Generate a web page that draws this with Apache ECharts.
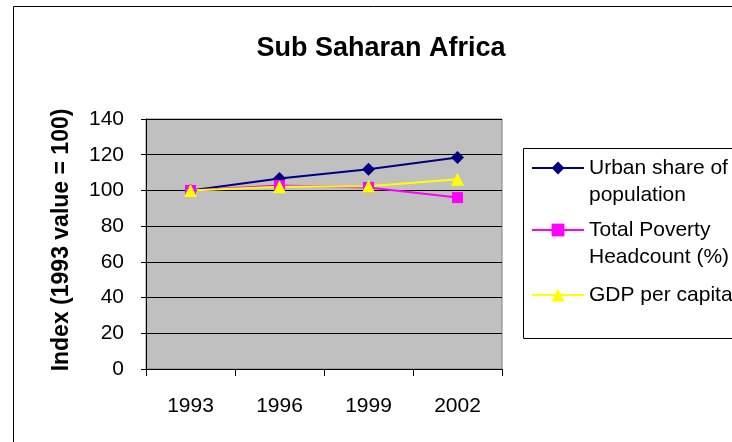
<!DOCTYPE html>
<html>
<head>
<meta charset="utf-8">
<script src="https://cdn.jsdelivr.net/npm/echarts@6/dist/echarts.min.js"></script>
<style>
  html, body { margin: 0; padding: 0; background: #fff; }
  #chart { width: 732px; height: 442px; }
</style>
</head>
<body>
<div id="chart"></div>
<script>
// 数据
const years = ['1993', '1996', '1999', '2002'];
const urbanShare = [100, 106.7, 111.8, 118.5];
const povertyHeadcount = [100, 102.8, 101.7, 96];
const gdpPerCapita = [100, 102, 102.4, 106.2];

const FONT = 'Liberation Sans, Arial, sans-serif';

const chart = echarts.init(document.getElementById('chart'));

// 单项图例：多行文字前加一空行，让首行与图标对齐
const legendItem = (name, top, multiLine) => ({
    orient: 'vertical',
    left: 531,
    top: top,
    padding: 0,
    itemWidth: 52,
    itemHeight: 16,
    itemGap: 0,
    itemTextGap: 7,
    data: [name],
    formatter: (n) => (multiLine ? ' \n' + n : n),
    textStyle: {
        fontFamily: FONT,
        fontSize: 21,
        color: '#000',
        lineHeight: 27
    }
});

const option = {
    animation: false,
    backgroundColor: '#fff',
    title: {
        text: 'Sub Saharan Africa',
        left: 376,
        top: 30,
        textAlign: 'center',
        textStyle: { fontFamily: FONT, fontSize: 27, fontWeight: 'bold', color: '#000' }
    },
    graphic: [
        {
            type: 'rect',
            shape: { x: 13.5, y: 6.5, width: 800, height: 500 },
            style: { fill: 'none', stroke: '#000', lineWidth: 1 },
            silent: true
        },
        {
            type: 'rect',
            shape: { x: 523.5, y: 148.5, width: 300, height: 190 },
            style: { fill: 'none', stroke: '#000', lineWidth: 1 },
            silent: true
        }
    ],
    legend: [
        legendItem('Urban share of\npopulation', 127.5, true),
        legendItem('Total Poverty\nHeadcount (%)', 189.5, true),
        legendItem('GDP per capita', 281.5, false)
    ],
    grid: {
        left: 146,
        top: 119,
        right: 230,
        bottom: 73,
        show: true,
        backgroundColor: '#C0C0C0',
        borderColor: '#808080',
        borderWidth: 1
    },
    xAxis: {
        type: 'category',
        data: years,
        boundaryGap: true,
        axisLine: { lineStyle: { color: '#000', width: 1 } },
        axisTick: { show: true, length: 7, alignWithLabel: false, lineStyle: { color: '#000' } },
        axisLabel: { fontFamily: FONT, fontSize: 21, color: '#000', margin: 27 }
    },
    yAxis: {
        type: 'value',
        min: 0,
        max: 140,
        interval: 20,
        name: 'Index (1993 value = 100)',
        nameLocation: 'middle',
        nameGap: 73,
        nameTextStyle: {
            fontFamily: FONT, fontSize: 23, fontWeight: 'bold', color: '#000',
            padding: [0, 0, 0, 8]
        },
        axisLine: { show: true, lineStyle: { color: '#000', width: 1 } },
        axisTick: { show: true, length: 5, lineStyle: { color: '#000' } },
        axisLabel: { fontFamily: FONT, fontSize: 21, color: '#000', margin: 22 },
        splitLine: { show: true, lineStyle: { color: '#000', width: 1 } }
    },
    series: [
        {
            name: 'Urban share of\npopulation',
            type: 'line',
            data: urbanShare,
            symbol: 'diamond',
            symbolSize: 13,
            itemStyle: { color: '#000080' },
            lineStyle: { color: '#000080', width: 2 }
        },
        {
            name: 'Total Poverty\nHeadcount (%)',
            type: 'line',
            data: povertyHeadcount,
            symbol: 'rect',
            symbolSize: 11,
            itemStyle: { color: '#FF00FF' },
            lineStyle: { color: '#FF00FF', width: 2 }
        },
        {
            name: 'GDP per capita',
            type: 'line',
            data: gdpPerCapita,
            symbol: 'triangle',
            symbolSize: 13,
            itemStyle: { color: '#FFFF00' },
            lineStyle: { color: '#FFFF00', width: 2 }
        }
    ]
};

chart.setOption(option, true);
</script>
</body>
</html>
